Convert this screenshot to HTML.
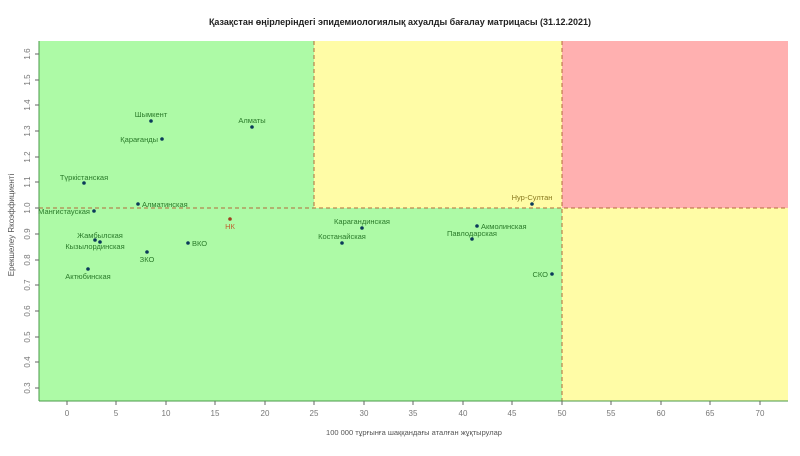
<!DOCTYPE html>
<html><head><meta charset="utf-8"><style>
body{margin:0;background:#fff}
svg text{font-family:"Liberation Sans","DejaVu Sans",sans-serif}
</style></head><body>
<svg width="800" height="451" viewBox="0 0 800 451" xmlns="http://www.w3.org/2000/svg">
<rect width="800" height="451" fill="#fff"/>
<text x="400" y="25" font-size="9" font-weight="bold" text-anchor="middle" fill="#222">Қазақстан өңірлеріндегі эпидемиологиялық ахуалды бағалау матрицасы  (31.12.2021)</text>
<rect x="39" y="41" width="275" height="360" fill="#adfaa6"/>
<rect x="314" y="41" width="248" height="167" fill="#fffca6"/>
<rect x="314" y="208" width="248" height="193" fill="#adfaa6"/>
<rect x="562" y="41" width="226" height="167" fill="#ffb0b0"/>
<rect x="562" y="208" width="226" height="193" fill="#fffca6"/>
<g stroke="#b36a3a" stroke-width="1" stroke-dasharray="4,3" fill="none">
<line x1="314" y1="41" x2="314" y2="208"/>
<line x1="562" y1="41" x2="562" y2="401"/>
<line x1="39" y1="208" x2="788" y2="208"/>
</g>
<g stroke="#4a9a4a" stroke-width="1">
<line x1="39" y1="41" x2="39" y2="401"/>
<line x1="39" y1="401" x2="788" y2="401"/>
</g>
<g stroke="#666" stroke-width="1" id="xt"></g>
<g font-size="8" fill="#777" text-anchor="middle">
<text x="67" y="416">0</text><text x="116" y="416">5</text><text x="166" y="416">10</text><text x="215" y="416">15</text><text x="265" y="416">20</text><text x="314" y="416">25</text><text x="364" y="416">30</text><text x="413" y="416">35</text><text x="463" y="416">40</text><text x="512" y="416">45</text><text x="562" y="416">50</text><text x="611" y="416">55</text><text x="661" y="416">60</text><text x="710" y="416">65</text><text x="760" y="416">70</text>
</g>
<g stroke="#666">
<line x1="67" y1="401" x2="67" y2="405"/><line x1="116" y1="401" x2="116" y2="405"/><line x1="166" y1="401" x2="166" y2="405"/><line x1="215" y1="401" x2="215" y2="405"/><line x1="265" y1="401" x2="265" y2="405"/><line x1="314" y1="401" x2="314" y2="405"/><line x1="364" y1="401" x2="364" y2="405"/><line x1="413" y1="401" x2="413" y2="405"/><line x1="463" y1="401" x2="463" y2="405"/><line x1="512" y1="401" x2="512" y2="405"/><line x1="562" y1="401" x2="562" y2="405"/><line x1="611" y1="401" x2="611" y2="405"/><line x1="661" y1="401" x2="661" y2="405"/><line x1="710" y1="401" x2="710" y2="405"/><line x1="760" y1="401" x2="760" y2="405"/>
<line x1="35" y1="54" x2="39" y2="54"/><line x1="35" y1="80" x2="39" y2="80"/><line x1="35" y1="105" x2="39" y2="105"/><line x1="35" y1="131" x2="39" y2="131"/><line x1="35" y1="157" x2="39" y2="157"/><line x1="35" y1="182" x2="39" y2="182"/><line x1="35" y1="208" x2="39" y2="208"/><line x1="35" y1="234" x2="39" y2="234"/><line x1="35" y1="260" x2="39" y2="260"/><line x1="35" y1="285" x2="39" y2="285"/><line x1="35" y1="311" x2="39" y2="311"/><line x1="35" y1="337" x2="39" y2="337"/><line x1="35" y1="362" x2="39" y2="362"/><line x1="35" y1="388" x2="39" y2="388"/>
</g>
<g font-size="8" fill="#777" text-anchor="middle">
<text transform="translate(30,54) rotate(-90)">1.6</text><text transform="translate(30,80) rotate(-90)">1.5</text><text transform="translate(30,105) rotate(-90)">1.4</text><text transform="translate(30,131) rotate(-90)">1.3</text><text transform="translate(30,157) rotate(-90)">1.2</text><text transform="translate(30,182) rotate(-90)">1.1</text><text transform="translate(30,208) rotate(-90)">1.0</text><text transform="translate(30,234) rotate(-90)">0.9</text><text transform="translate(30,260) rotate(-90)">0.8</text><text transform="translate(30,285) rotate(-90)">0.7</text><text transform="translate(30,311) rotate(-90)">0.6</text><text transform="translate(30,337) rotate(-90)">0.5</text><text transform="translate(30,362) rotate(-90)">0.4</text><text transform="translate(30,388) rotate(-90)">0.3</text>
</g>
<text transform="translate(14,225) rotate(-90)" font-size="8" fill="#555" text-anchor="middle">Ерекшелеу Rкоэффициенті</text>
<text x="414" y="435" font-size="7.5" fill="#555" text-anchor="middle">100 000 тұрғынға шаққандағы аталған жұқтырулар</text>
<g fill="#0a3a5a">
<circle cx="151" cy="121" r="1.8"/><circle cx="162" cy="139" r="1.8"/><circle cx="252" cy="127" r="1.8"/><circle cx="84" cy="183" r="1.8"/><circle cx="138" cy="204" r="1.8"/><circle cx="94" cy="211" r="1.8"/><circle cx="95" cy="240" r="1.8"/><circle cx="100" cy="242" r="1.8"/><circle cx="147" cy="252" r="1.8"/><circle cx="188" cy="243" r="1.8"/><circle cx="88" cy="269" r="1.8"/><circle cx="362" cy="228" r="1.8"/><circle cx="342" cy="243" r="1.8"/><circle cx="477" cy="226" r="1.8"/><circle cx="472" cy="239" r="1.8"/><circle cx="532" cy="204" r="1.8"/><circle cx="552" cy="274" r="1.8"/>
<circle cx="230" cy="219" r="1.8" fill="#a04020"/>
</g>
<g font-size="7.5" fill="#2a7a2a">
<text x="151" y="117" text-anchor="middle">Шымкент</text>
<text x="158" y="142" text-anchor="end">Қарағанды</text>
<text x="252" y="123" text-anchor="middle">Алматы</text>
<text x="84" y="180" text-anchor="middle">Түркістанская</text>
<text x="142" y="207">Алматинская</text>
<text x="90" y="214" text-anchor="end">Мангистауская</text>
<text x="100" y="238" text-anchor="middle">Жамбылская</text>
<text x="95" y="249" text-anchor="middle">Кызылординская</text>
<text x="147" y="262" text-anchor="middle">ЗКО</text>
<text x="192" y="246">ВКО</text>
<text x="88" y="279" text-anchor="middle">Актюбинская</text>
<text x="362" y="224" text-anchor="middle">Карагандинская</text>
<text x="342" y="239" text-anchor="middle">Костанайская</text>
<text x="481" y="229">Акмолинская</text>
<text x="472" y="236" text-anchor="middle">Павлодарская</text>
<text x="548" y="277" text-anchor="end">СКО</text>
</g>
<text x="532" y="200" font-size="7.5" fill="#8a7a20" text-anchor="middle">Нур-Султан</text>
<text x="230" y="229" font-size="7.5" fill="#c06030" text-anchor="middle">НК</text>
</svg>
</body></html>
